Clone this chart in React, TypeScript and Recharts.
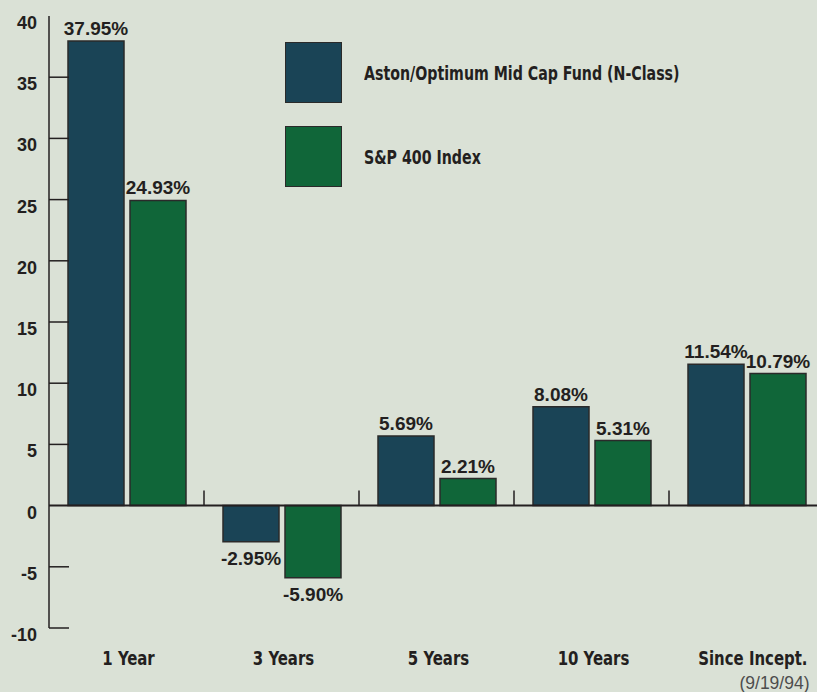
import { BarChart, Bar, XAxis, YAxis, Legend, ReferenceLine, LabelList } from "recharts";

const categories = ["1 Year", "3 Years", "5 Years", "10 Years", "Since Incept."];
const subLabels = ["", "", "", "", "(9/19/94)"];
const fundValues = [37.95, -2.95, 5.69, 8.08, 11.54];
const indexValues = [24.93, -5.9, 2.21, 5.31, 10.79];
const yTicks = [-10, -5, 0, 5, 10, 15, 20, 25, 30, 35, 40];

const fundName = "Aston/Optimum Mid Cap Fund (N-Class)";
const indexName = "S&P 400 Index";

const data = categories.map((cat, i) => ({
  cat,
  sub: subLabels[i],
  fund: fundValues[i],
  index: indexValues[i],
}));

const BG = "#dae1d6";
const INK = "#231f20";
const BLUE = "#1a4456";
const GREEN = "#106639";
// no narrow font installed, so squeeze a condensed one
const NARROW = "'Liberation Sans Narrow', 'DejaVu Sans Condensed', sans-serif";
const SQUEEZE = 0.83;
const SANS = "'Liberation Sans', Arial, sans-serif";

function YTick(props: any) {
  const { x, y, payload } = props;
  return (
    <g>
      {payload.value !== 40 && payload.value !== 0 && (
        <line x1={x + 12} x2={x + 32} y1={y} y2={y} stroke={INK} strokeWidth={1.5} />
      )}
      <text x={x} y={y + 13} textAnchor="end" fontFamily={SANS} fontWeight="bold" fontSize={18} fill={INK}>
        {payload.value}
      </text>
    </g>
  );
}

function XTick(props: any) {
  const { x, y, payload, index } = props;
  const sub = subLabels[index];
  const lx = sub ? x + 61 : x + 2;
  return (
    <g>
      <text
        transform={`translate(${lx},${y + 37}) scale(${SQUEEZE},1)`}
        textAnchor={sub ? "end" : "middle"}
        fontFamily={NARROW}
        fontWeight="bold"
        fontSize={20}
        fill={INK}
      >
        {payload.value}
      </text>
      {sub && (
        <text x={x + 63} y={y + 61} textAnchor="end" fontFamily={SANS} fontSize={17.5} fill="#4d4d4d">
          {sub}
        </text>
      )}
    </g>
  );
}

function ValueLabel(props: any) {
  const { x, y, width, height, value } = props;
  const top = Math.min(y, y + height);
  const bottom = Math.max(y, y + height);
  const cx = x + width / 2;
  return (
    <text
      x={cx}
      y={value >= 0 ? top - 6 : bottom + 23}
      textAnchor="middle"
      fontFamily={SANS}
      fontWeight="bold"
      fontSize={19}
      fill={INK}
    >
      {value.toFixed(2)}%
    </text>
  );
}

// zero line with category separator marks pointing up
function ZeroLine(props: any) {
  const { x1, x2, y1 } = props;
  const step = (x2 - x1) / categories.length;
  return (
    <g>
      <line x1={x1} x2={x2} y1={y1} y2={y1} stroke={INK} strokeWidth={2} />
      {categories.slice(1).map((_, i) => (
        <line
          key={i}
          x1={x1 + step * (i + 1)}
          x2={x1 + step * (i + 1)}
          y1={y1}
          y2={y1 - 15}
          stroke={INK}
          strokeWidth={1.5}
        />
      ))}
    </g>
  );
}

function LegendBox(props: any) {
  const { payload } = props;
  return (
    <div style={{ display: "flex", flexDirection: "column", gap: 23 }}>
      {(payload || []).map((entry: any) => (
        <div key={entry.value} style={{ display: "flex", alignItems: "center" }}>
          <div
            style={{
              width: 55,
              height: 59,
              background: entry.color,
              border: "1.5px solid #2a2a2a",
              marginRight: 22,
            }}
          />
          <span
            style={{
              fontFamily: NARROW,
              fontWeight: "bold",
              fontSize: 19,
              color: INK,
              display: "inline-block",
              whiteSpace: "nowrap",
              transform: `scaleX(${SQUEEZE})`,
              transformOrigin: "left center",
            }}
          >
            {entry.value}
          </span>
        </div>
      ))}
    </div>
  );
}

export default function App() {
  return (
    <div
      style={{
        position: "absolute",
        left: 0,
        top: 0,
        width: 817,
        height: 692,
        overflow: "hidden",
        background: BG,
      }}
    >
      <BarChart
        width={830}
        height={692}
        data={data}
        margin={{ top: 16, right: 6, bottom: 0, left: 0 }}
        barGap={6}
        barCategoryGap={18}
      >
        <XAxis
          dataKey="cat"
          axisLine={false}
          tickLine={false}
          tickSize={0}
          tickMargin={0}
          height={64}
          interval={0}
          tick={<XTick />}
        />
        <YAxis
          domain={[-10, 40]}
          ticks={yTicks}
          width={49}
          axisLine={{ stroke: INK, strokeWidth: 1.5 }}
          tickLine={false}
          tickSize={0}
          tickMargin={12}
          interval={0}
          tick={<YTick />}
        />
        <Legend
          layout="vertical"
          align="center"
          verticalAlign="middle"
          wrapperStyle={{ left: 285, top: 42, width: 460 }}
          content={<LegendBox />}
        />
        <Bar dataKey="fund" name={fundName} fill={BLUE} stroke="#2a2a2a" strokeWidth={1.5} barSize={56} isAnimationActive={false}>
          <LabelList dataKey="fund" content={<ValueLabel />} />
        </Bar>
        <Bar dataKey="index" name={indexName} fill={GREEN} stroke="#2a2a2a" strokeWidth={1.5} barSize={56} isAnimationActive={false}>
          <LabelList dataKey="index" content={<ValueLabel />} />
        </Bar>
        <ReferenceLine y={0} shape={<ZeroLine />} />
      </BarChart>
    </div>
  );
}
